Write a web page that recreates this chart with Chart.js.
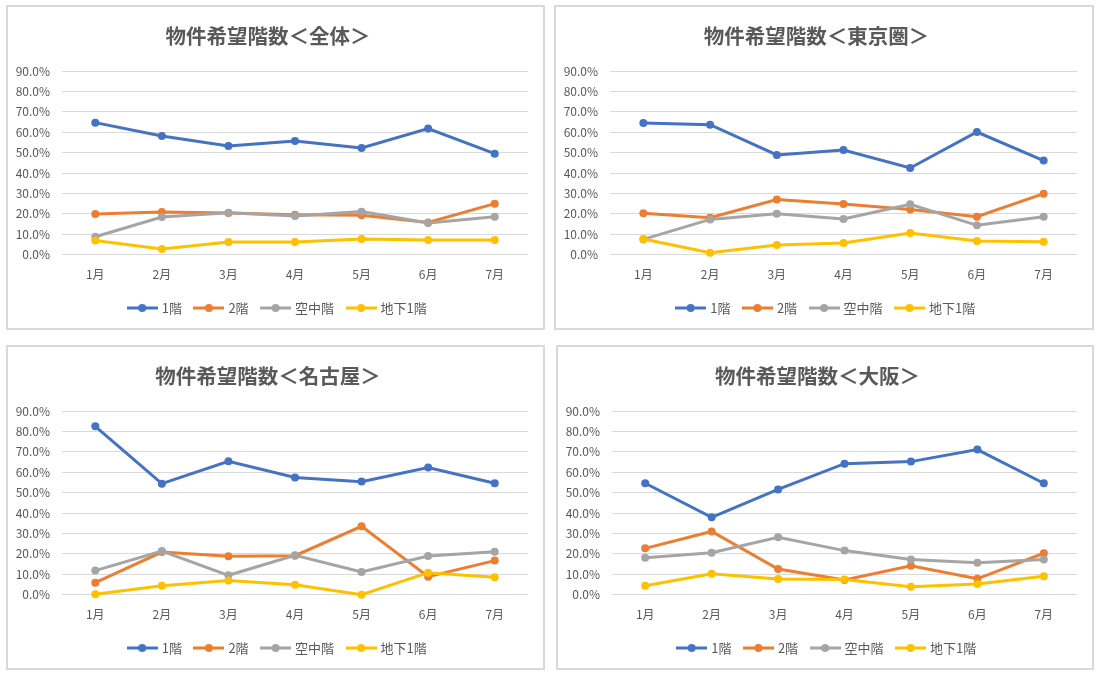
<!DOCTYPE html>
<html lang="ja">
<head>
<meta charset="utf-8">
<title>物件希望階数</title>
<script src="https://cdn.jsdelivr.net/npm/chart.js@4.4.1/dist/chart.umd.min.js"></script>
<style>
    html, body { margin: 0; padding: 0; background: #ffffff; }
    body { width: 1100px; height: 675px; position: relative; overflow: hidden; }
    .panel { position: absolute; box-sizing: border-box; border: 2px solid #d9d9d9; background: #fff; }
    .panel canvas { display: block; }
</style>
</head>
<body>
<div class="panel" id="p1" style="left:6px;top:5px;width:539px;height:325px;"><canvas id="c1"></canvas></div>
<div class="panel" id="p2" style="left:554px;top:5px;width:540px;height:325px;"><canvas id="c2"></canvas></div>
<div class="panel" id="p3" style="left:6px;top:345px;width:539px;height:325px;"><canvas id="c3"></canvas></div>
<div class="panel" id="p4" style="left:556px;top:345px;width:538px;height:325px;"><canvas id="c4"></canvas></div>
<script>
"use strict";
// mesi (etichette asse x)
const months = ["1月", "2月", "3月", "4月", "5月", "6月", "7月"];
const seriesNames = ["1階", "2階", "空中階", "地下1階"];
const seriesColors = ["#4472C4", "#ED7D31", "#A5A5A5", "#FFC000"];
const yTicks = [0, 10, 20, 30, 40, 50, 60, 70, 80, 90];

// 全体
const zentai_1f = [64.7, 58.2, 53.3, 55.7, 52.3, 61.8, 49.5];
const zentai_2f = [19.9, 20.9, 20.4, 19.6, 19.3, 15.8, 25.0];
const zentai_sky = [8.8, 18.5, 20.6, 19.0, 21.1, 15.5, 18.6];
const zentai_b1 = [7.0, 2.8, 6.2, 6.2, 7.7, 7.2, 7.2];

// 東京圏
const tokyo_1f = [64.5, 63.7, 48.9, 51.3, 42.5, 60.1, 46.1];
const tokyo_2f = [20.3, 18.1, 27.0, 24.8, 22.2, 18.6, 29.9];
const tokyo_sky = [7.5, 17.3, 20.1, 17.5, 24.7, 14.4, 18.6];
const tokyo_b1 = [7.7, 1.0, 4.7, 5.7, 10.6, 6.7, 6.4];

// 名古屋
const nagoya_1f = [82.5, 54.4, 65.4, 57.4, 55.4, 62.3, 54.6];
const nagoya_2f = [5.9, 20.9, 18.8, 19.1, 33.5, 8.8, 16.7];
const nagoya_sky = [11.8, 21.4, 9.5, 19.3, 11.1, 19.0, 21.1];
const nagoya_b1 = [0.2, 4.4, 6.9, 4.9, 0.0, 10.8, 8.5];

// 大阪
const osaka_1f = [54.6, 37.9, 51.6, 64.2, 65.2, 71.1, 54.6];
const osaka_2f = [22.7, 31.0, 12.6, 7.2, 14.2, 7.8, 20.3];
const osaka_sky = [18.1, 20.6, 28.1, 21.6, 17.3, 15.7, 17.2];
const osaka_b1 = [4.4, 10.3, 7.7, 7.4, 3.9, 5.2, 9.0];

const FONT = "'Noto Sans CJK JP', 'Noto Sans', sans-serif";
const GREY = "#595959";

// icona della legenda: linea con pallino al centro
function legendIcon(color) {
    let c = document.createElement("canvas");
    c.width = 31;
    c.height = 10;
    let g = c.getContext("2d");
    g.strokeStyle = color;
    g.lineWidth = 3;
    g.beginPath();
    g.moveTo(0, 5);
    g.lineTo(31, 5);
    g.stroke();
    g.fillStyle = color;
    g.beginPath();
    g.arc(15.5, 5, 4, 0, Math.PI * 2);
    g.fill();
    return c;
}

// sposta un po' la legenda a destra (Chart.js conta anche il padding finale)
const spostaLegenda = {
    id: "spostaLegenda",
    afterLayout: function(chart) {
        if (chart.legend) {
            chart.legend.left += 10;
            chart.legend.right += 10;
        }
    }
};

function disegna(idCanvas, titolo, serie) {
    let canvas = document.getElementById(idCanvas);
    let panel = canvas.parentNode;
    canvas.width = panel.clientWidth;
    canvas.height = panel.clientHeight;
    canvas.style.width = panel.clientWidth + "px";
    canvas.style.height = panel.clientHeight + "px";

    let datasets = [];
    for (let i = 0; i < serie.length; i++) {
        datasets.push({
            label: seriesNames[i],
            data: serie[i],
            borderColor: seriesColors[i],
            backgroundColor: seriesColors[i],
            pointBackgroundColor: seriesColors[i],
            pointBorderColor: seriesColors[i],
            borderWidth: 3,
            pointRadius: 4,
            pointBorderWidth: 0,
            tension: 0,
            fill: false,
            clip: false,
            order: serie.length - i // come Excel: l'ultima serie sopra
        });
    }

    return new Chart(canvas, {
        type: "line",
        data: { labels: months, datasets: datasets },
        plugins: [spostaLegenda],
        options: {
            responsive: false,
            animation: false,
            devicePixelRatio: 1,
            layout: { padding: { left: 0, right: 15, top: 0, bottom: 3.5 } },
            plugins: {
                title: {
                    display: true,
                    text: titolo,
                    color: GREY,
                    font: { family: FONT, size: 20.5, weight: "bold" },
                    padding: { top: 17, bottom: 22.4 }
                },
                legend: {
                    position: "bottom",
                    labels: {
                        usePointStyle: true,
                        pointStyleWidth: 26,
                        padding: 14,
                        color: GREY,
                        font: { family: FONT, size: 13 },
                        generateLabels: function(chart) {
                            return chart.data.datasets.map(function(ds, i) {
                                return {
                                    text: ds.label,
                                    fillStyle: ds.borderColor,
                                    strokeStyle: ds.borderColor,
                                    lineWidth: 0,
                                    pointStyle: legendIcon(ds.borderColor),
                                    fontColor: GREY,
                                    hidden: false,
                                    datasetIndex: i
                                };
                            });
                        }
                    }
                },
                tooltip: { enabled: false }
            },
            scales: {
                x: {
                    type: "category",
                    offset: true,
                    grid: { display: false, drawTicks: false },
                    border: { display: false },
                    ticks: { color: GREY, font: { family: FONT, size: 12 }, padding: 13 },
                    afterFit: function(scale) { scale.height = 32.8; }
                },
                y: {
                    min: 0,
                    max: 90,
                    afterBuildTicks: function(scale) {
                        scale.ticks = yTicks.map(function(v) { return { value: v }; });
                    },
                    grid: { color: "#d9d9d9", lineWidth: 1, drawTicks: false },
                    border: { display: false },
                    ticks: {
                        color: GREY,
                        font: { family: FONT, size: 12 },
                        padding: 12,
                        callback: function(v) { return Number(v).toFixed(1) + "%"; }
                    },
                    afterFit: function(scale) { scale.width = 54; }
                }
            }
        }
    });
}

disegna("c1", "物件希望階数＜全体＞", [zentai_1f, zentai_2f, zentai_sky, zentai_b1]);
disegna("c2", "物件希望階数＜東京圏＞", [tokyo_1f, tokyo_2f, tokyo_sky, tokyo_b1]);
disegna("c3", "物件希望階数＜名古屋＞", [nagoya_1f, nagoya_2f, nagoya_sky, nagoya_b1]);
disegna("c4", "物件希望階数＜大阪＞", [osaka_1f, osaka_2f, osaka_sky, osaka_b1]);
</script>
</body>
</html>
